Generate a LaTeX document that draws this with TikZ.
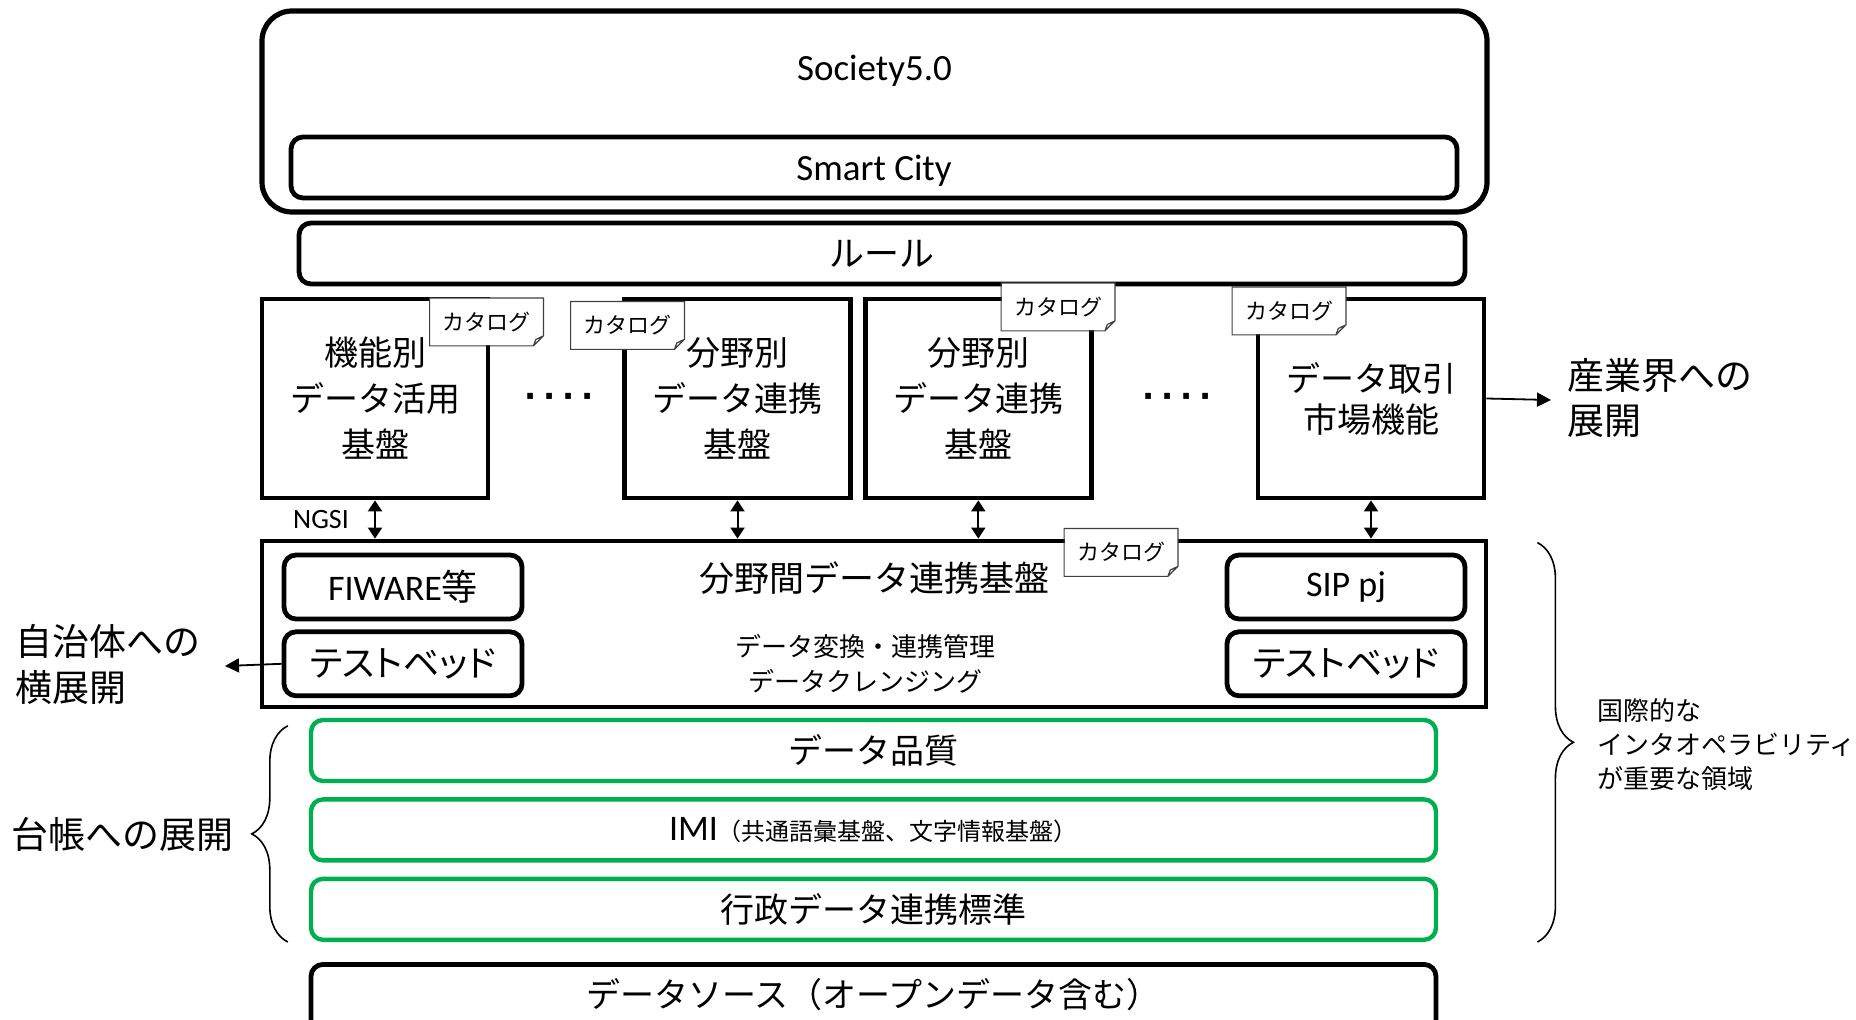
\documentclass[tikz,border=0pt]{standalone}
\usepackage{fontspec}
\setmainfont{Noto Sans CJK JP}
\newfontfamily\latinfont{Carlito}
\newfontfamily\kanafont[RawFeature={+palt}]{Noto Sans CJK JP}
\newfontfamily\dotfont{DejaVu Sans}
\usetikzlibrary{positioning,arrows.meta,decorations.pathreplacing}
\definecolor{layergreen}{RGB}{0,176,80}

\newcommand{\catalogtag}[2]{%
  \node[catalog] (#1) at (#2) {カタログ};
  \draw[catalog edge] (#1.north west) -- (#1.north east) -- ([yshift=5pt]#1.south east)
    -- ([xshift=-5pt]#1.south east) -- (#1.south west) -- cycle
    ([xshift=-5pt]#1.south east) -- ([xshift=-3.8pt,yshift=3.2pt]#1.south east)
    -- ([yshift=5pt]#1.south east);
}

\begin{document}
\begin{tikzpicture}[x=0.5pt, y=-0.5pt,
      every node/.style={inner sep=0pt},
      societybox/.style={draw, line width=2.6pt, rounded corners=15pt,
        minimum width=612.5pt, minimum height=100.5pt},
      layerbar/.style={draw, line width=2.4pt, rounded corners=6pt,
        minimum width=583pt, minimum height=30.5pt},
      pillar/.style={draw, line width=2.4pt, minimum width=113pt,
        minimum height=99.5pt, align=center, font=\fontsize{17}{23}\selectfont},
      platform/.style={draw, line width=2.4pt, minimum width=612pt,
        minimum height=83pt},
      subbox/.style={draw, line width=2.4pt, rounded corners=6pt,
        minimum width=119pt, minimum height=32pt},
      greenbar/.style={draw=layergreen, line width=2.2pt, rounded corners=6pt,
        minimum width=562.5pt, minimum height=30.5pt, font=\fontsize{17}{20}\selectfont},
      catalog/.style={fill=white, minimum width=56.5pt, minimum height=23.5pt,
        font=\fontsize{11}{13}\selectfont},
      catalog edge/.style={draw=black!75, line width=0.6pt},
      dots/.style={font=\dotfont\bfseries\fontsize{16}{18}\selectfont},
      dualarrow/.style={line width=1pt,
        {Triangle[width=7pt,length=5.5pt]}-{Triangle[width=7pt,length=5.5pt]}},
      spread/.style={line width=0.9pt, -{Triangle[width=7pt,length=7pt]}},
      curly/.style={decorate, decoration={brace, amplitude=18pt}, line width=0.8pt},
      sidetext/.style={align=left, font=\fontsize{18.5}{23}\selectfont}]
  \useasboundingbox (0,0) rectangle (1856,1020);

  % Society5.0 / Smart City / rules
  \node[societybox] (society) at (874.5,111.5) {};
  \node[font=\latinfont\fontsize{18.5}{22}\selectfont] (societytitle)
    at ([yshift=-31pt]society.north) {Society5.0};
  \node[layerbar, text depth=0pt, font=\latinfont\fontsize{18.5}{22}\selectfont] (smartcity)
    at (874,167.5) {Smart City};
  \node[layerbar, font=\fontsize{17.5}{20}\selectfont] (rule) at (882,253.5) {ルール};

  % platforms
  \node[pillar] (funcbase) at (375,398.5) {機能別\\データ活用\\基盤};
  \node[pillar] (fieldbaseA) at (737.5,398.5) {分野別\\データ連携\\基盤};
  \node[pillar, right=5pt of fieldbaseA] (fieldbaseB) {分野別\\データ連携\\基盤};
  \node[pillar, font=\fontsize{17}{20.5}\selectfont] (market) at (1371,398.5)
    {データ取引\\市場機能};
  \node[dots] (dotsA) at (559,400) {·\hspace{3.3pt}·\hspace{3.3pt}·\hspace{3.3pt}·};
  \node[dots] (dotsB) at (1177,400) {·\hspace{3.3pt}·\hspace{3.3pt}·\hspace{3.3pt}·};

  % cross-field platform
  \node[platform] (crossbase) at (874,624) {};
  \node[font=\fontsize{17.5}{20}\selectfont] (crosstitle) at (874,578)
    {分野間データ連携基盤};
  \node[align=center, font=\fontsize{13}{17.5}\selectfont] (crossfunc) at (865,664)
    {データ変換・連携管理\\データクレンジング};
  \node[subbox, font=\fontsize{18}{20}\selectfont] (fiware) at (403,587)
    {{\latinfont FIWARE}等};
  \node[subbox, below=4pt of fiware, font=\kanafont\fontsize{18}{20}\selectfont] (testbedL)
    {テストベッド};
  \node[subbox, font=\latinfont\fontsize{18}{20}\selectfont] (sip) at (1346,587)
    {SIP pj};
  \node[subbox, below=4pt of sip, font=\kanafont\fontsize{18}{20}\selectfont] (testbedR)
    {テストベッド};

  \foreach \n in {funcbase,fieldbaseA,fieldbaseB,market}
    \draw[dualarrow] (\n.south) -- (\n.south |- crossbase.north);
  \node[font=\latinfont\fontsize{14}{16}\selectfont] (ngsi) at (321,520) {NGSI};

  % catalogs
  \catalogtag{catfunc}{486.5,322}
  \catalogtag{catfieldA}{627.5,325.5}
  \catalogtag{catfieldB}{1058,307}
  \catalogtag{catmarket}{1289,311}
  \catalogtag{catcross}{1121,552.5}

  % data layers
  \node[greenbar] (quality) at (873.5,750.5) {データ品質};
  \node[greenbar, below=7pt of quality] (imi)
    {{\latinfont\fontsize{18}{20}\selectfont IMI}{\fontsize{12}{14}\selectfont（共通語彙基盤、文字情報基盤）}};
  \node[greenbar, below=7pt of imi] (gyosei) {行政データ連携標準};
  \node[draw, line width=2.4pt, rounded corners=6pt, minimum width=562.5pt,
    anchor=north, text height=21.5pt, text depth=17.5pt,
    font=\fontsize{17}{20}\selectfont] (source) at (873.5,962)
    {データソース（オープンデータ含む）};

  % deployment
  \coordinate (industrytip) at (1551,400);
  \node[sidetext, font=\fontsize{18.5}{22.5}\selectfont, anchor=west] (industry)
    at (1567,398) {産業界への\\展開};
  \draw[spread] (market.east) -- (industrytip);
  \coordinate (municipaltip) at (225,666);
  \node[sidetext, anchor=west] (municipal) at (15,664) {自治体への\\横展開};
  \draw[spread] (testbedL.west) -- (municipaltip);
  \node[sidetext, anchor=east] (ledger) at (234,834) {台帳への展開};
  \draw[curly] ([xshift=-10.5pt]gyosei.south west)
    -- ([xshift=-10.5pt,yshift=-4pt]quality.north west);
  \draw[curly] ([xshift=24.5pt,yshift=-2pt]crossbase.north east)
    -- ([xshift=24.5pt]crossbase.north east |- gyosei.south);
  \node[sidetext, anchor=west, font=\fontsize{13}{17}\selectfont] (interop)
    at (1597,745) {国際的な\\インタオペラビリティ\\が重要な領域};
\end{tikzpicture}
\end{document}
